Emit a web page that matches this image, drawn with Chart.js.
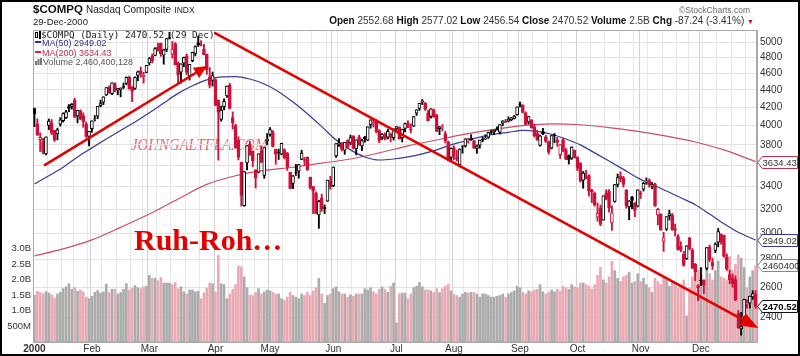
<!DOCTYPE html>
<html><head><meta charset="utf-8">
<script src="https://cdn.jsdelivr.net/npm/chart.js@4.4.1/dist/chart.umd.min.js"></script>
<style>
html,body{margin:0;padding:0;background:#fff;}
#wrap{position:relative;width:800px;height:356px;overflow:hidden;font-family:"Liberation Sans",Arial,sans-serif;background:#fff;}
#c{position:absolute;left:0;top:0;}
.t{position:absolute;white-space:nowrap;line-height:1;}
#frame{position:absolute;left:0;top:0;width:800px;height:356px;box-sizing:border-box;border:2px solid #000;pointer-events:none;}
.ln{display:inline-block;width:6px;height:2px;vertical-align:middle;margin-right:1px;position:relative;top:-1px;}
</style></head><body>
<div id="wrap">
<div class="t" style="left:131px;top:136px;font-family:'Liberation Serif',serif;font-style:italic;font-size:17px;transform:scaleX(0.87);transform-origin:left top;color:#ef6474">JOHNGALTFLA.COM</div>
<canvas id="c" width="800" height="356"></canvas>
<div class="t" style="left:33px;top:4px;font-size:11.5px;font-weight:bold;color:#111">$COMPQ <span style="font-weight:normal;font-size:10px;color:#222">Nasdaq Composite</span> <span style="font-weight:normal;font-size:8.5px;color:#222">INDX</span></div>
<div class="t" style="left:33px;top:17px;font-size:9.5px;color:#222">29-Dec-2000</div>
<div class="t" style="right:50px;top:6px;font-size:8.5px;color:#666">©StockCharts.com</div>
<div class="t" style="right:46px;top:15.5px;font-size:10px;color:#333"><b style="color:#111">Open</b> 2552.68 <b style="color:#111">High</b> 2577.02 <b style="color:#111">Low</b> 2456.54 <b style="color:#111">Close</b> 2470.52 <b style="color:#111">Volume</b> 2.5B <b style="color:#111">Chg</b> -87.24 (-3.41%) <span style="color:#c8102e;font-size:7px">▼</span></div>
<div class="t" style="left:35px;top:30px;font-family:'DejaVu Sans Mono',monospace;font-size:9.3px;color:#222"><svg width="6" height="8" style="vertical-align:-1px"><rect x="0.5" y="1.5" width="2" height="5" fill="#fff" stroke="#000" stroke-width="1"/><rect x="4" y="0" width="2" height="8" fill="#000"/></svg>$COMPQ (Daily) 2470.52 (29 Dec)</div>
<div class="t" style="left:35px;top:38.5px;font-size:9px;color:#33338a"><span class="ln" style="background:#33338a"></span>MA(50) 2949.02</div>
<div class="t" style="left:35px;top:48.5px;font-size:9px;color:#c03048"><span class="ln" style="background:#c03048"></span>MA(200) 3634.43</div>
<div class="t" style="left:35px;top:58px;font-size:9px;color:#555"><svg width="7" height="7" style="vertical-align:0px;margin-right:1px"><rect x="0" y="3" width="2" height="4" fill="#777"/><rect x="2.5" y="1" width="2" height="6" fill="#777"/><rect x="5" y="0" width="2" height="7" fill="#777"/></svg>Volume 2,460,400,128</div>
<div class="t" style="left:134px;top:225px;font-family:'Liberation Serif',serif;font-weight:bold;font-size:30px;line-height:30px;color:#e30000">Ruh-Roh…</div>
<div id="frame"></div>
</div>
<script>
// ---- categories: trading days of 2000, per month ----
const tradingDays = [
 [3,4,5,6,7,10,11,12,13,14,18,19,20,21,24,25,26,27,28,31],
 [1,2,3,4,7,8,9,10,11,14,15,16,17,18,22,23,24,25,28,29],
 [1,2,3,6,7,8,9,10,13,14,15,16,17,20,21,22,23,24,27,28,29,30,31],
 [3,4,5,6,7,10,11,12,13,14,17,18,19,20,24,25,26,27,28],
 [1,2,3,4,5,8,9,10,11,12,15,16,17,18,19,22,23,24,25,26,30,31],
 [1,2,5,6,7,8,9,12,13,14,15,16,19,20,21,22,23,26,27,28,29,30],
 [3,5,6,7,10,11,12,13,14,17,18,19,20,21,24,25,26,27,28,31],
 [1,2,3,4,7,8,9,10,11,14,15,16,17,18,21,22,23,24,25,28,29,30,31],
 [1,5,6,7,8,11,12,13,14,15,18,19,20,21,22,25,26,27,28,29],
 [2,3,4,5,6,9,10,11,12,13,16,17,18,19,20,23,24,25,26,27,30,31],
 [1,2,3,6,7,8,9,10,13,14,15,16,17,20,21,22,24,27,28,29,30],
 [1,4,5,6,7,8,11,12,13,14,15,18,19,20,21,22,26,27,28,29]
];
const monthNames = ['2000','Feb','Mar','Apr','May','Jun','Jul','Aug','Sep','Oct','Nov','Dec'];
const prevYearClose = 4069.31;

// ---- series: daily OHLC ----
const openP = [
 4186,4020,3854,3834,3711,4002,4031,3950,3915,4015,4055,4087,4208,4211,4283,4105,4162,4108,4014,3888,
 3968,4069,4104,4219,4260,4343,4433,4357,4471,4401,4404,4440,4476,4549,4430,4418,4573,4630,4557,4609,
 4729,4816,4823,4935,4983,4829,4903,5060,4839,4980,4726,4614,4725,4818,4570,4758,4850,4989,4961,4904,4838,4557,4513,
 4522,4283,4068,4208,4330,4458,4086,4002,3847,3630,3232,3622,3808,3738,3556,3533,3744,3502,3842,
 3907,3928,3757,3731,3707,3750,3717,3532,3428,3530,3542,3656,3655,3676,3487,3400,3342,3153,3299,3219,3271,3453,
 3409,3691,3801,3808,3747,3844,3820,3894,3761,3880,3789,3880,3848,4011,4018,4049,3948,3880,3906,3879,3912,3874,
 3966,3982,3874,3972,4027,3965,3995,4136,4187,4258,4246,4140,4101,4169,4117,3967,3981,3916,3832,3675,
 3771,3673,3604,3788,3789,3845,3870,3843,3765,3797,3858,3865,3880,3936,3935,3963,3932,4026,4049,4048,4065,4079,4120,
 4236,4223,4140,4040,4059,3990,3917,3794,3937,3884,3828,3766,3904,3847,3702,3853,3748,3692,3667,3747,
 3676,3621,3460,3487,3501,3370,3340,3133,3212,3110,3339,3357,3087,3269,3421,3498,3480,3367,3221,3304,3255,3228,
 3339,3377,3444,3456,3402,3420,3152,3160,2939,3036,3147,3150,3036,2976,2900,2841,2806,2965,2870,2763,2612,
 2648,2651,2735,2895,2780,2869,2932,2994,2985,2817,2690,2665,2654,2426,2327,2400,2490,2492,2533,2552.68
];
const highP = [
 4192,4073,3924,3868,3882,4072,4066,3950,3974,4086,4140,4166,4232,4244,4303,4168,4173,4140,4040,3940,
 4051,4110,4211,4282,4321,4427,4449,4485,4485,4421,4425,4481,4556,4566,4440,4557,4627,4677,4612,4697,
 4797,4844,4925,4986,4985,4906,5046,5132,5008,4991,4741,4717,4803,4842,4711,4867,4950,5078,5018,4970,4843,4670,4615,
 4532,4284,4215,4297,4446,4477,4150,4016,3884,3630,3539,3794,3838,3740,3556,3711,3787,3774,3917,
 3979,3948,3757,3758,3818,3762,3725,3532,3502,3608,3607,3747,3676,3681,3487,3401,3352,3279,3333,3239,3459,3496,
 3583,3813,3865,3825,3825,3854,3901,3894,3851,3900,3860,3889,3989,4064,4072,4068,3958,3917,3925,3963,3923,3966,
 3991,3987,3963,4029,4053,4020,4099,4174,4246,4289,4257,4168,4185,4182,4124,3993,4011,3939,3838,3771,
 3791,3746,3761,3794,3864,3869,3905,3843,3800,3850,3878,3904,3931,3952,3955,3988,4011,4053,4068,4095,4090,4110,4206,
 4260,4230,4150,4100,4066,4014,3950,3902,3971,3900,3841,3897,3917,3878,3803,3867,3766,3701,3781,3749,
 3682,3625,3540,3550,3509,3376,3352,3255,3236,3317,3372,3374,3230,3420,3517,3537,3495,3374,3275,3314,3260,3371,
 3360,3438,3480,3472,3438,3433,3210,3163,3010,3138,3193,3166,3077,2992,2935,2862,2904,2971,2883,2770,2617,
 2740,2651,2890,2910,2810,2927,3041,2998,2986,2842,2721,2693,2680,2444,2431,2518,2516,2539,2576,2577.02
];
const lowP = [
 3989,3898,3734,3711,3700,3958,3904,3834,3852,3995,4038,4078,4152,4180,4086,4030,4063,3983,3876,3791,
 3930,4050,4075,4207,4230,4335,4363,4345,4380,4343,4320,4417,4460,4409,4265,4406,4508,4550,4480,4605,
 4701,4729,4819,4879,4812,4713,4874,5039,4788,4703,4482,4481,4680,4584,4517,4742,4818,4941,4946,4833,4587,4425,4445,
 4220,3649,4048,4172,4314,4182,3964,3767,3651,3228,3227,3556,3695,3587,3388,3525,3624,3476,3800,
 3890,3779,3609,3655,3700,3660,3551,3382,3381,3503,3477,3653,3599,3550,3377,3164,3163,3042,3183,3163,3268,3376,
 3400,3676,3784,3738,3706,3762,3800,3757,3700,3796,3741,3827,3842,3973,3985,3922,3822,3856,3852,3860,3831,3849,
 3931,3858,3831,3934,3980,3924,3990,4110,4166,4232,4167,4052,4082,4090,3939,3905,3945,3820,3640,3640,
 3652,3639,3584,3717,3777,3818,3846,3765,3715,3767,3833,3855,3866,3913,3905,3952,3912,3998,4032,4040,4052,4072,4113,
 4205,4137,4012,4017,3972,3880,3846,3787,3906,3825,3708,3760,3822,3786,3665,3730,3654,3611,3656,3668,
 3548,3441,3385,3472,3315,3258,3226,3101,3064,3109,3282,3175,3026,3262,3397,3443,3395,3210,3112,3206,3138,3220,
 3293,3360,3421,3395,3380,3225,3070,3028,2861,3025,3110,3026,2980,2870,2858,2751,2800,2872,2734,2646,2508,
 2610,2556,2723,2783,2726,2850,2895,2916,2817,2718,2624,2600,2508,2331,2288,2398,2459,2460,2517,2456.54
];
const closeP = [
 4131,3901,3877,3727,3882,4049,3921,3850,3957,4064,4130,4151,4189,4235,4096,4167,4069,4039,3887,3940,
 4051,4073,4211,4244,4321,4427,4363,4485,4395,4418,4420,4431,4549,4411,4382,4550,4618,4590,4577,4697,
 4784,4754,4914,4904,4847,4897,5046,5049,4907,4707,4583,4717,4798,4610,4711,4864,4940,4963,4958,4833,4645,4457,4573,
 4223,4148,4169,4267,4446,4188,4031,3769,3676,3321,3539,3794,3706,3643,3482,3711,3630,3774,3860,
 3958,3785,3707,3720,3817,3670,3585,3384,3499,3529,3607,3717,3645,3554,3390,3364,3164,3270,3205,3205,3459,3400,
 3582,3813,3821,3757,3825,3775,3874,3767,3851,3797,3845,3860,3989,4064,4034,3936,3845,3912,3858,3940,3877,3966,
 3991,3863,3960,4023,3980,3956,4099,4174,4246,4274,4178,4055,4184,4094,3940,3988,3987,3843,3663,3766,
 3685,3658,3759,3787,3862,3848,3853,3766,3789,3849,3851,3868,3930,3931,3953,3958,4011,4053,4042,4070,4083,4103,4206,
 4234,4143,4013,4098,3979,3896,3850,3893,3913,3835,3727,3897,3897,3828,3803,3741,3656,3657,3779,3673,
 3570,3455,3524,3473,3362,3355,3240,3169,3074,3317,3290,3213,3171,3419,3483,3468,3419,3229,3273,3278,3191,3370,
 3333,3429,3451,3416,3416,3232,3200,3028,2966,3138,3165,3031,3027,2876,2871,2755,2904,2880,2734,2706,2597,
 2645,2615,2890,2797,2753,2917,3015,2932,2823,2729,2653,2624,2512,2333,2341,2518,2493,2539,2557,2470.52
];
// volume, billions of shares
const volumeB = [
 1.51,1.64,1.60,1.56,1.63,1.58,1.52,1.42,1.55,1.60,1.72,1.78,1.88,1.70,1.76,1.64,1.68,1.62,1.45,1.40,
 1.48,1.60,1.66,1.58,1.62,1.86,1.60,1.70,1.70,1.55,1.60,1.70,1.88,1.68,1.74,1.82,1.75,1.72,1.78,1.80,
 2.15,2.05,2.05,1.98,2.08,1.90,1.90,1.90,1.85,1.92,1.72,1.78,1.62,1.55,1.68,1.68,1.62,1.64,1.40,1.58,1.74,1.90,1.88,
 1.62,2.78,1.88,1.85,1.40,1.55,1.70,1.85,2.45,2.42,2.10,1.75,1.52,1.50,1.60,1.72,1.55,1.62,1.68,
 1.65,1.60,1.55,1.55,1.40,1.35,1.45,1.60,1.50,1.45,1.40,1.55,1.50,1.60,1.50,1.65,1.75,2.05,1.55,1.25,1.50,1.55,
 1.72,1.78,1.62,1.55,1.55,1.45,1.52,1.48,1.55,1.55,1.55,1.72,1.68,1.75,1.62,1.55,1.70,1.78,1.70,1.60,1.80,1.90,
 0.62,1.55,1.58,1.58,1.40,1.55,1.75,1.80,1.92,1.78,1.68,1.68,1.65,1.60,1.72,1.60,1.72,1.80,1.85,1.65,
 1.55,1.50,1.45,1.55,1.60,1.58,1.60,1.60,1.55,1.45,1.55,1.55,1.50,1.45,1.45,1.48,1.50,1.55,1.45,1.55,1.60,1.65,1.80,
 1.75,1.60,1.55,1.65,1.62,1.68,1.70,1.85,1.62,1.55,1.60,1.68,1.62,1.70,1.65,1.80,1.75,1.70,1.85,1.78,
 1.75,1.90,1.90,1.85,1.80,1.70,1.85,2.15,2.40,2.00,1.90,2.10,2.60,2.30,2.05,1.95,2.10,2.15,2.25,1.90,1.95,2.20,
 1.95,2.05,1.85,1.75,1.60,2.05,1.95,1.85,2.10,2.00,1.80,1.95,1.85,1.75,1.80,2.00,0.85,1.75,2.10,2.20,2.30,
 2.15,1.85,2.50,2.20,2.00,2.30,2.60,2.10,2.05,2.00,2.75,2.30,2.50,2.80,2.70,2.40,1.75,2.10,2.30,2.46
];
// moving averages, sampled (trading-day index -> value)
const ma50Days = [0,5,10,15,20,25,30,35,40,45,50,55,60,65,70,75,80,85,90,95,100,105,110,115,120,125,130,135,140,145,150,155,160,165,170,175,180,185,190,195,200,205,210,215,220,225,230,235,240,245,251];
const ma50 = [3424,3500,3580,3680,3770,3860,3950,4040,4140,4250,4360,4450,4520,4555,4560,4530,4470,4380,4260,4130,3990,3850,3750,3680,3650,3660,3680,3710,3750,3800,3840,3880,3910,3930,3950,3940,3910,3860,3800,3720,3640,3560,3480,3420,3360,3300,3240,3160,3080,3010,2949.02];
const ma200Days = [0,10,20,30,40,50,60,70,80,90,100,110,120,130,140,150,160,170,180,190,200,210,220,230,240,251];
const ma200 = [2826,2880,2950,3050,3160,3290,3420,3500,3550,3580,3620,3660,3720,3790,3850,3910,3960,4000,4020,4010,3980,3940,3890,3830,3750,3634.43];
// tick labels
const priceTicks = [2400,2600,2800,3000,3200,3400,3600,3800,4000,4200,4400,4600,4800,5000];
const volTicks = [0.5,1.0,1.5,2.0,2.5,3.0];
// hand-drawn trend arrows, in (trading-day index, price)
const arrows = [
  {from:[3.7,3602], to:[60.1,4690], head:13, half:6},
  {from:[62.9,5121], to:[251.9,2332], head:18, half:7}
];
// right-edge value tags
const tags = [
  {axis:'y', value:3634.43, text:'3634.43', color:'#c03050', bold:false},
  {axis:'y', value:2949.02, text:'2949.02', color:'#3a3a8a', bold:false},
  {axis:'yv', value:2.460400128, text:'2460400', color:'#888', bold:false},
  {axis:'y', value:2470.52, text:'2470.52', color:'#111', bold:true}
];

// ---- derived structures ----
const labels = [], monthStart = new Set(), weekStart = new Set(), monthLabel = {};
let prevDow = 9;
tradingDays.forEach((days, m) => {
  days.forEach((d, k) => {
    const idx = labels.length;
    const dow = new Date(2000, m, d).getDay();
    if (k === 0) { monthStart.add(idx); monthLabel[idx] = monthNames[m]; }
    if (dow < prevDow) weekStart.add(idx);
    prevDow = dow;
    labels.push((m+1) + '/' + d + '/2000');
  });
});
const RED = '#d0103a';
const upDay = closeP.map((c, i) => c >= (i === 0 ? prevYearClose : closeP[i-1]));
const candleColor = upDay.map(u => u ? '#000' : RED);
const bodyFill = closeP.map((c, i) => c < openP[i] ? candleColor[i] : '#ffffff');
const volColor = upDay.map(u => u ? '#ababab' : '#eaaab4');
function sparse(days, vals) { const a = new Array(labels.length).fill(null); days.forEach((d, k) => a[d] = vals[k]); return a; }

const priceMin = 2246.6, priceMax = 5162.6;

const annot = {
  id: 'annot',
  beforeDatasetsDraw(chart) {
    const {ctx, chartArea: a} = chart;
    ctx.save(); ctx.strokeStyle = '#aaa'; ctx.lineWidth = 1;
    ctx.strokeRect(a.left + 0.5, a.top + 0.5, a.right - a.left - 1, a.bottom - a.top - 1);
    ctx.restore();
  },
  afterDatasetsDraw(chart) {
    const {ctx, scales: {x, y}} = chart;
    ctx.save();
    arrows.forEach(ar => {
      const x1 = x.getPixelForValue(ar.from[0]), y1 = y.getPixelForValue(ar.from[1]);
      const x2 = x.getPixelForValue(ar.to[0]), y2 = y.getPixelForValue(ar.to[1]);
      const dx = x2 - x1, dy = y2 - y1, len = Math.hypot(dx, dy), ux = dx/len, uy = dy/len;
      const bx = x2 - ux*ar.head, by = y2 - uy*ar.head;
      ctx.strokeStyle = '#e60000'; ctx.fillStyle = '#e60000'; ctx.lineWidth = 2.6; ctx.lineCap = 'round';
      ctx.beginPath(); ctx.moveTo(x1, y1); ctx.lineTo(bx + ux*2, by + uy*2); ctx.stroke();
      ctx.beginPath(); ctx.moveTo(x2, y2);
      ctx.lineTo(bx - uy*ar.half, by + ux*ar.half);
      ctx.lineTo(bx + uy*ar.half, by - ux*ar.half);
      ctx.closePath(); ctx.fill();
    });
    ctx.restore();
  },
  afterDraw(chart) {
    const {ctx, chartArea: a} = chart;
    ctx.save();
    tags.forEach(t => {
      const yy = Math.round(chart.scales[t.axis].getPixelForValue(t.value)) + 0.5;
      const x0 = a.right + 0.5, w = 40, h = 6;
      ctx.beginPath();
      ctx.moveTo(x0, yy); ctx.lineTo(x0 + 5, yy - h); ctx.lineTo(x0 + w, yy - h);
      ctx.lineTo(x0 + w, yy + h); ctx.lineTo(x0 + 5, yy + h); ctx.closePath();
      ctx.fillStyle = '#fff'; ctx.fill();
      ctx.strokeStyle = t.color; ctx.lineWidth = 1; ctx.stroke();
      ctx.fillStyle = t.bold ? '#000' : '#333';
      ctx.font = (t.bold ? 'bold ' : '') + '9.5px "Liberation Sans", Arial, sans-serif';
      ctx.textAlign = 'left'; ctx.textBaseline = 'middle';
      ctx.fillText(t.text, x0 + 5, yy + 0.5);
    });
    ctx.restore();
  }
};

new Chart(document.getElementById('c'), {
  type: 'bar',
  data: {
    labels,
    datasets: [
      { type:'bar', label:'body', data: openP.map((o, i) => [o, closeP[i]]), yAxisID:'y',
        backgroundColor: bodyFill, borderColor: candleColor, borderWidth: 1, borderSkipped: false,
        barThickness: 3, grouped: false, order: 1 },
      { type:'bar', label:'wick', data: lowP.map((l, i) => [l, highP[i]]), yAxisID:'y',
        backgroundColor: candleColor, borderWidth: 0, barThickness: 1.2, grouped: false, order: 2 },
      { type:'line', label:'MA50', data: sparse(ma50Days, ma50), yAxisID:'y', borderColor:'#3a3a9a',
        borderWidth: 1.2, pointRadius: 0, spanGaps: true, cubicInterpolationMode:'monotone', order: 3 },
      { type:'line', label:'MA200', data: sparse(ma200Days, ma200), yAxisID:'y', borderColor:'#c8506a',
        borderWidth: 1.2, pointRadius: 0, spanGaps: true, cubicInterpolationMode:'monotone', order: 3 },
      { type:'bar', label:'Volume', data: volumeB, yAxisID:'yv', backgroundColor: volColor,
        borderWidth: 0, barPercentage: 0.92, categoryPercentage: 1, grouped: false, order: 10 }
    ]
  },
  options: {
    responsive: false, animation: false, devicePixelRatio: 1,
    layout: { padding: { top: 30, left: 0, right: 0, bottom: 0 } },
    plugins: { legend: { display: false }, tooltip: { enabled: false } },
    scales: {
      x: {
        type: 'category', offset: true,
        grid: { offset: true, drawTicks: false, lineWidth: 1,
          color: c => monthStart.has(c.index) ? '#d2d2d2' : (weekStart.has(c.index) ? '#e8e8e8' : 'rgba(0,0,0,0)') },
        border: { display: true, color: '#aaa' },
        ticks: { autoSkip: false, maxRotation: 0, minRotation: 0, padding: 1, color: '#333',
          font: c => ({ family: 'Liberation Sans', size: 10, weight: c.index === 0 ? 'bold' : 'normal' }),
          callback: (v, i) => monthLabel[i] || '' },
        afterFit: s => { s.height = 14; }
      },
      y: {
        type: 'logarithmic', position: 'right', min: priceMin, max: priceMax,
        afterBuildTicks: s => { s.ticks = priceTicks.map(v => ({ value: v })); },
        ticks: { autoSkip: false, padding: 3, color: '#333', font: { family: 'Liberation Sans', size: 10 },
          callback: v => String(v) },
        grid: { color: '#e2e2e2', drawTicks: false },
        border: { display: true, color: '#aaa' },
        afterFit: s => { s.width = 43; }
      },
      yv: {
        type: 'linear', position: 'left', min: 0, max: 10,
        afterBuildTicks: s => { s.ticks = volTicks.map(v => ({ value: v })); },
        ticks: { autoSkip: false, padding: 2, color: '#333', font: { family: 'Liberation Sans', size: 9.5 },
          callback: v => v >= 1 ? v.toFixed(1) + 'B' : Math.round(v * 1000) + 'M' },
        grid: { display: false, drawTicks: false },
        border: { display: true, color: '#aaa' },
        afterFit: s => { s.width = 33; }
      }
    }
  },
  plugins: [annot]
});
</script>
</body></html>
